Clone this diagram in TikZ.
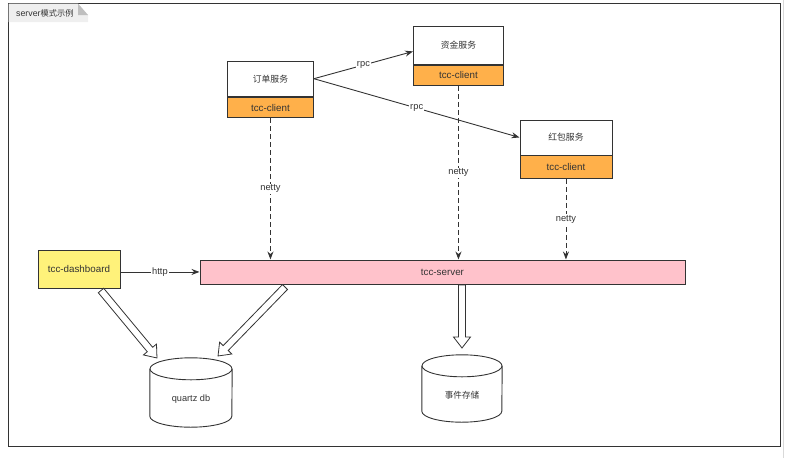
\documentclass[tikz,border=0pt]{standalone}
\usepackage{fontspec}
\setmainfont{Liberation Sans}
\newfontfamily\cjk{Noto Sans CJK SC}
\usetikzlibrary{arrows.meta,calc}
\definecolor{linec}{HTML}{333333}
\definecolor{orangec}{HTML}{FFB04A}
\definecolor{yellowc}{HTML}{FFF27A}
\definecolor{pinkc}{HTML}{FFC2CB}
\definecolor{tabgray}{HTML}{EFEFEF}
\newcommand{\dbcyl}[2]{%
  \draw[cyl] ([yshift=-11pt]#1.north west) -- ([yshift=11pt]#1.south west)
     arc[start angle=180,end angle=360,x radius=#2pt,y radius=11pt]
     -- ([yshift=-11pt]#1.north east);
  \draw[cyl] ([yshift=-11pt]#1.north) ellipse[x radius=#2pt,y radius=11pt];}
\newcommand{\hollowarrow}[2]{%
  \path let \p1=(#1), \p2=(#2), \n1={atan2(\y2-\y1,\x2-\x1)}, \n2={veclen(\x2-\x1,\y2-\y1)} in
    \pgfextra{\xdef\harot{\n1}\xdef\halen{\n2}\xdef\hax{\x1}\xdef\hay{\y1}};
  \pgfmathsetmacro\hahb{\halen-11}%
  \pgfmathsetmacro\hatip{\halen}%
  \begin{scope}[shift={(\hax,\hay)},rotate=\harot]
    \draw[hollow] (0pt,-3.5pt) -- (\hahb pt,-3.5pt) -- (\hahb pt,-8.5pt) -- (\hatip pt,0pt)
      -- (\hahb pt,8.5pt) -- (\hahb pt,3.5pt) -- (0pt,3.5pt) -- cycle;
  \end{scope}}
\tikzset{
  box/.style={draw=linec, line width=0.9pt, inner sep=0pt, text=linec, font=\fontsize{9.8}{11}\selectfont},
  wbox/.style={box, fill=white, font=\cjk\fontsize{8.8}{10}\selectfont},
  obox/.style={box, fill=orangec},
  conn/.style={draw=linec, line width=0.9pt, -{Stealth[length=8pt,width=6pt]}},
  dconn/.style={conn, dash pattern=on 5pt off 3pt},
  lbl/.style={fill=white, inner sep=1pt, text=linec, font=\fontsize{9.3}{10}\selectfont},
  cyl/.style={draw=linec, line width=0.9pt, fill=white},
  hollow/.style={draw=linec, line width=0.8pt, fill=white, line join=miter},
}
\begin{document}
\begin{tikzpicture}[x=1pt,y=-1pt]
\useasboundingbox (0,0) rectangle (786,458);
% frame
\draw[black!15, line width=0.8pt] (783,0) -- (783,458);
\node[draw=linec, line width=1.2pt, minimum width=772, minimum height=443, anchor=north west, inner sep=0] (frame) at (8,3) {};
\fill[tabgray] (8.6,3.6) -- (78,3.6) -- (88,15) -- (88,22) -- (8.6,22) -- cycle;
\fill[black!25] (78,3.6) -- (88,15) -- (78,15) -- cycle;
\node[anchor=west, inner sep=0, text=linec, font=\fontsize{8.8}{10}\selectfont] (title) at (16,13) {server{\cjk\fontsize{8.2}{10}\selectfont 模式示例}};
% service boxes
\node[wbox, minimum width=86, minimum height=35.5, anchor=north west] (ord) at (227,60.5) {订单服务};
\node[obox, minimum width=86, minimum height=20.5, anchor=north] (ordc) at (ord.south) {tcc-client};
\node[wbox, minimum width=90, minimum height=38, anchor=north west] (zj) at (413,26) {资金服务};
\node[obox, minimum width=90, minimum height=20, anchor=north] (zjc) at (zj.south) {tcc-client};
\node[wbox, minimum width=92, minimum height=35, anchor=north west] (hb) at (519.5,119.5) {红包服务};
\node[obox, minimum width=92, minimum height=22.5, anchor=north] (hbc) at (hb.south) {tcc-client};
\node[box, fill=yellowc, minimum width=82, minimum height=38, anchor=north west] (dash) at (37.5,250) {tcc-dashboard};
\node[box, fill=pinkc, minimum width=485, minimum height=24, anchor=north west] (srv) at (199.5,259.5) {tcc-server};
% databases
\node[minimum width=82, minimum height=69, inner sep=0] (qdb) at (191,392.5) {};
\dbcyl{qdb}{41}
\node[text=linec, font=\fontsize{9.2}{10}\selectfont, inner sep=0] (qdbt) at ([yshift=-7pt]qdb.center) {quartz db};
\node[minimum width=80, minimum height=67, inner sep=0] (evt) at (462,388.5) {};
\dbcyl{evt}{40}
\node[text=linec, font=\cjk\fontsize{8.6}{10}\selectfont, inner sep=0] (evtt) at ([yshift=-7pt]evt.center) {事件存储};
% rpc
\draw[conn] (ord.east) -- node[lbl]{rpc} ([yshift=-6pt]zj.west);
\draw[conn] (ord.east) -- node[lbl]{rpc} (hb.west);
% netty
\draw[dconn] (ordc.south) -- node[lbl]{netty} (ordc.south |- srv.north);
\draw[dconn] (zjc.south) -- node[lbl]{netty} (zjc.south |- srv.north);
\draw[dconn] (hbc.south) -- node[lbl]{netty} (hbc.south |- srv.north);
% http
\draw[conn] (dash.east |- srv.west) -- node[lbl]{http} (srv.west);
% hollow arrows
\coordinate (la1) at (101,290.5);
\coordinate (la2) at (157,358);
\coordinate (ra1) at (285,287);
\coordinate (ra2) at (218,356);
\coordinate (ma1) at (462,285);
\coordinate (ma2) at (462,348);
\hollowarrow{la1}{la2}
\hollowarrow{ra1}{ra2}
\hollowarrow{ma1}{ma2}
\end{tikzpicture}
\end{document}
